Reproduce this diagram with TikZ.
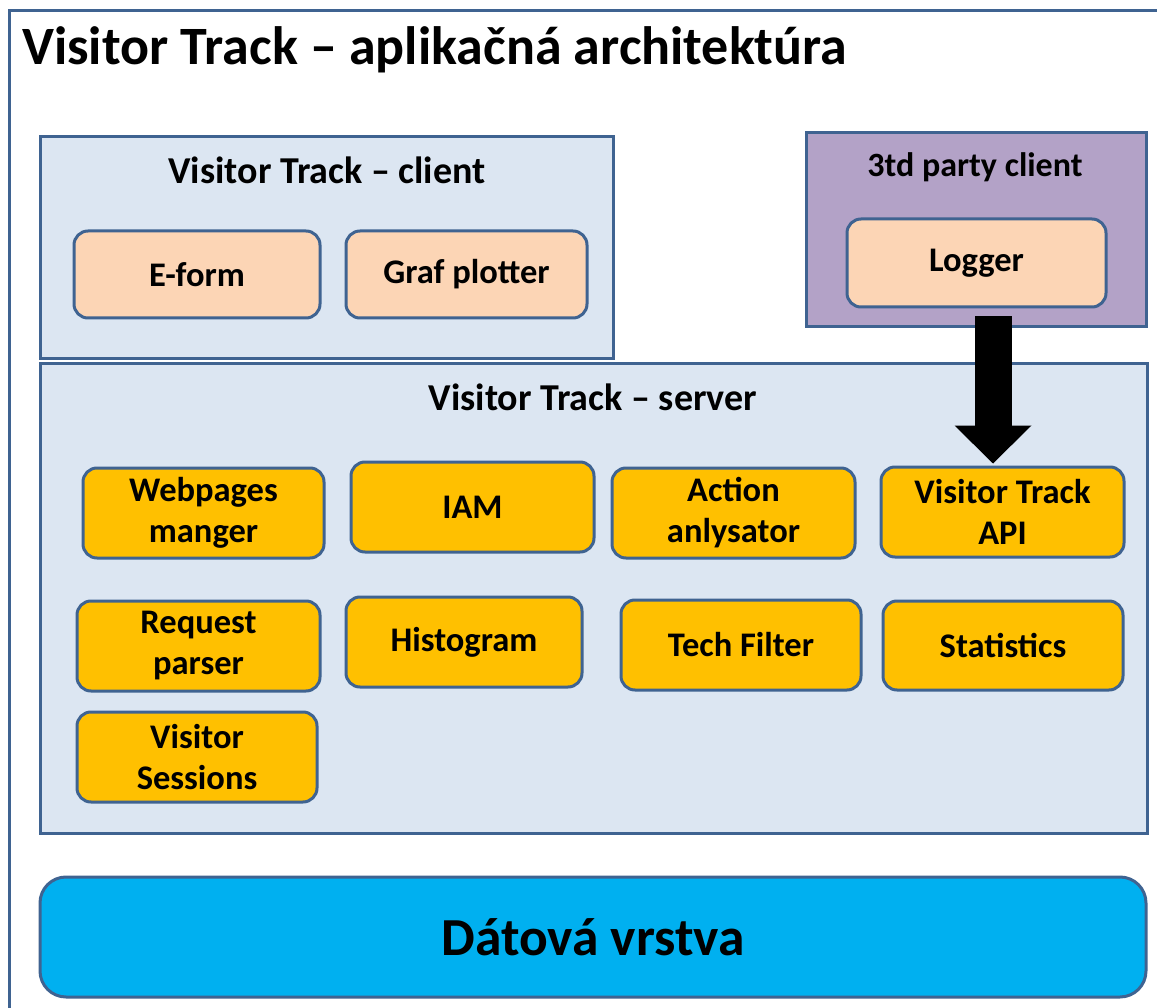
\documentclass[tikz,border=0pt]{standalone}
\usepackage{fontspec}
\setmainfont{Carlito}
\usetikzlibrary{arrows.meta}

\definecolor{edge}{HTML}{3F6391}
\definecolor{paleblue}{HTML}{DCE6F2}
\definecolor{peach}{HTML}{FCD5B5}
\definecolor{lilac}{HTML}{B3A2C7}
\definecolor{gold}{HTML}{FFC000}
\definecolor{cyanlayer}{HTML}{00B0F0}

\tikzset{
  panel/.style={draw=edge, line width=3pt, rectangle, inner sep=0pt},
  paneltitle/.style={font=\fontsize{38}{44}\selectfont\bfseries, inner sep=0pt},
  module/.style={draw=edge, line width=3pt, rounded corners=14pt, fill=gold,
    font=\fontsize{34.5}{41}\selectfont\bfseries, align=center, inner sep=0pt,
    minimum height=90pt},
  clientmod/.style={module, fill=peach, minimum height=87pt},
}

\begin{document}
\begin{tikzpicture}[x=1pt, y=-1pt]
\useasboundingbox (0,0) rectangle (1157,1008);

% outer frame, running off the right and bottom edges
\draw[draw=edge, line width=3pt] (9,1030) -- (9,11) -- (1180,11);

% title
\node[anchor=base west, inner sep=0pt, font=\fontsize{54}{62}\selectfont\bfseries] (title)
  at (22,65) {Visitor Track – aplikačná architektúra};

% client panel
\node[panel, fill=paleblue, minimum width=573pt, minimum height=222pt] (client) at (326.5,248) {};
\node[paneltitle] (clienttitle) at (327,170) {Visitor Track – client};
\node[clientmod, minimum width=246pt] (eform) at (197,274.5) {E-form};
\node[clientmod, minimum width=241pt] (graf) at (466.5,274.5) {Graf plotter};

% third party panel
\node[panel, fill=lilac, minimum width=340pt, minimum height=194pt] (third) at (976,230) {};
\node[paneltitle, font=\fontsize{34}{40}\selectfont\bfseries] (thirdtitle) at (975,167) {3td party client};
\node[clientmod, minimum width=259pt, minimum height=88pt] (logger) at (976.5,263) {Logger};

% server panel
\node[panel, fill=paleblue, minimum width=1107pt, minimum height=469pt] (server) at (593.5,598.5) {};
\node[paneltitle] (servertitle) at (593,397) {Visitor Track – server};

\node[module, minimum width=241pt] (web) at (203.5,513) {Webpages\\manger};
\node[module, minimum width=243pt] (iam) at (472.5,507) {IAM};
\node[module, minimum width=243pt] (action) at (733.5,513) {Action\\anlysator};
\node[module, minimum width=243pt] (api) at (1002.5,512) {Visitor Track\\API};

\node[module, minimum width=243pt] (request) at (198.5,646) {Request\\parser};
\node[module, minimum width=236pt] (histogram) at (464,642) {Histogram};
\node[module, minimum width=240pt] (tech) at (741,645) {Tech Filter};
\node[module, minimum width=240pt, minimum height=89pt] (stats) at (1003,645.5) {Statistics};

\node[module, minimum width=240pt] (sessions) at (197,757) {Visitor\\Sessions};

% data layer
\node[draw=edge, line width=3pt, rounded corners=26pt, fill=cyanlayer,
  minimum width=1106pt, minimum height=120pt, inner sep=0pt,
  font=\fontsize{53.5}{60}\selectfont\bfseries] (data) at (593,937) {Dátová vrstva};

% logger feeds the API
\draw[line width=37pt, -{Triangle[width=77pt, length=38pt, line width=0pt]}]
  ([xshift=16.5pt, yshift=-8pt]logger.south) -- ([xshift=-9.5pt, yshift=2pt]api.north);
\end{tikzpicture}
\end{document}
